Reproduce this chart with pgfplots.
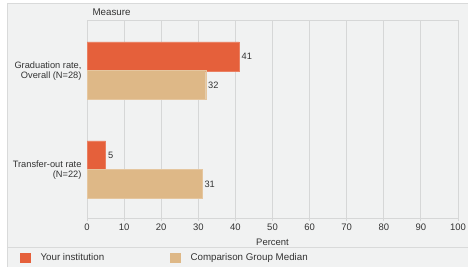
\documentclass[border=0pt]{standalone}
\usepackage{pgfplots}
\pgfplotsset{compat=1.18}
\usepackage{fontspec}
\setmainfont{Liberation Sans}
\definecolor{panel}{HTML}{F1F2F2}
\definecolor{frame}{HTML}{D9DADA}
\definecolor{gridc}{HTML}{D6D7D7}
\definecolor{redbar}{HTML}{E5603B}
\definecolor{tanbar}{HTML}{DEB887}
\definecolor{txt}{HTML}{333333}
\begin{document}
\begin{tikzpicture}[x=1bp,y=1bp]
\useasboundingbox (0,0) rectangle (468,266);
\begin{scope}
\clip (0,0) rectangle (468,266);
\path[fill=white] (0,0) rectangle (468,266);
\path[fill=panel,draw=frame,line width=0.8bp] (7,-2) rectangle (470,263);
\end{scope}
\node[anchor=west,font=\fontsize{9.8}{11}\selectfont,text=txt] at (89,253.5) {Measure};
\draw[gridc,line width=0.8bp] (87,246) -- (458,246);
\begin{axis}[
  at={(87bp,48bp)}, anchor=south west,
  scale only axis, width=371bp, height=198bp,
  xmin=0, xmax=100, ymin=-0.515, ymax=1.485,
  y dir=reverse,
  xbar, bar width=29bp,
  xtick={0,10,...,100},
  ytick={0,1},
  yticklabels={{Graduation rate,\\Overall (N=28)},{Transfer-out rate\\(N=22)}},
  yticklabel style={align=right,font=\fontsize{9.3}{10}\selectfont,text=txt,xshift=1bp},
  xticklabel style={font=\fontsize{9.5}{11}\selectfont,text=txt,yshift=1bp},
  /pgf/number format/assume math mode=true,
  xlabel={Percent},
  xlabel style={font=\fontsize{9.5}{11}\selectfont,text=txt,at={(axis description cs:0.5,0)},anchor=center,yshift=-24bp},
  xmajorgrids, major grid style={gridc,line width=1bp},
  axis line style={gridc,line width=1bp},
  axis x line*=bottom, axis y line*=left,
  tick style={gridc,line width=1bp},
  major tick length=3bp,
  xtick pos=bottom, ytick style={draw=none},
  tick align=outside,
  nodes near coords,
  nodes near coords style={font=\fontsize{9.3}{11}\selectfont,text=txt,xshift=-1bp},
  clip=false,
]
\addplot[fill=redbar,draw=redbar!80!white,bar shift=14.5bp] coordinates {(41,0) (5,1)};
\addplot[fill=tanbar,draw=tanbar!80!white,bar shift=-14bp] coordinates {(32,0) (31,1)};
\end{axis}
\draw[frame,line width=1bp] (7,19) -- (468,19);
\fill[redbar] (20,3.5) rectangle (31,13.5);
\node[anchor=west,font=\fontsize{9.8}{11}\selectfont,text=txt] at (37,8.5) {Your institution};
\fill[tanbar] (170,3.5) rectangle (181,13.5);
\node[anchor=west,font=\fontsize{9.8}{11}\selectfont,text=txt] at (187,8.5) {Comparison Group Median};
\end{tikzpicture}
\end{document}
